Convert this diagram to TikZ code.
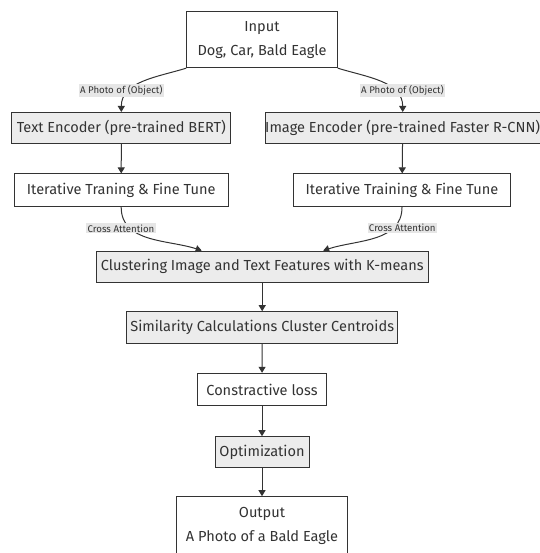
\documentclass[tikz,border=0pt]{standalone}
\usepackage{fontspec}
\setmainfont{Fira Sans}
\usetikzlibrary{arrows.meta}
\definecolor{edgegray}{HTML}{333333}
\definecolor{boxgray}{HTML}{ECECEC}
\definecolor{lblgray}{HTML}{E6E6E6}

\begin{document}
\begin{tikzpicture}[x=1bp, y=1bp, line width=1bp,
    box/.style={draw=edgegray, fill=white, text=edgegray, inner sep=0pt, align=center, font=\fontsize{14.6}{24}\selectfont},
    gbox/.style={box, fill=boxgray},
    lbl/.style={fill=lblgray, text=edgegray, inner sep=1.2bp, font=\fontsize{9.7}{11}\selectfont},
    arr/.style={draw=edgegray, -{Triangle[length=6bp,width=7bp]}}]
	\useasboundingbox (0,0) rectangle (540,-553);
	\clip (0,0) rectangle (540,-553);
	\node[box, minimum width=150.6bp, minimum height=56bp] (in) at (262,-39.7) {Input\\Dog, Car, Bald Eagle};
	\node[gbox, minimum width=219.3bp, minimum height=31bp] (te) at (121.3,-128) {Text Encoder (pre-trained BERT)};
	\node[gbox, minimum width=273.3bp, minimum height=31bp] (ie) at (402.7,-128) {Image Encoder (pre-trained Faster R-CNN)};
	\node[box, minimum width=214.3bp, minimum height=32.7bp] (it1) at (121.2,-190.3) {Iterative Traning \& Fine Tune};
	\node[box, minimum width=217.4bp, minimum height=32.7bp] (it2) at (402,-190.3) {Iterative Training \& Fine Tune};
	\node[gbox, minimum width=332.3bp, minimum height=31.3bp] (cl) at (262.2,-266.7) {Clustering Image and Text Features with K-means};
	\node[gbox, minimum width=271bp, minimum height=31.6bp] (si) at (262.2,-327.5) {Similarity Calculations Cluster Centroids};
	\node[box, minimum width=128.3bp, minimum height=32.4bp] (co) at (262,-389.5) {Constractive loss};
	\node[gbox, minimum width=94bp, minimum height=30.6bp] (op) at (262,-452) {Optimization};
	\node[box, minimum width=171.7bp, minimum height=58bp] (ou) at (262,-525.7) {Output\\A Photo of a Bald Eagle};

	\draw[arr] (in.south west) to[out=-163,in=90] (te.north) node[lbl] (pa) at (121.3,-90.7) {A Photo of (Object)};
	\draw[arr] (in.south east) to[out=-17,in=90] (ie.north) node[lbl] (pb) at (402.5,-90.5) {A Photo of (Object)};
	\draw[arr] (te) -- (it1);
	\draw[arr] (ie) -- (it2);
	\draw[arr] (it1.south) to[out=-90,in=162] ([xshift=-60.5bp]cl.north) node[lbl] (ca) at (121,-228.3) {Cross Attention};
	\draw[arr] (it2.south) to[out=-90,in=18] ([xshift=61bp]cl.north) node[lbl] (cb) at (402.3,-228) {Cross Attention};
	\draw[arr] (cl) -- (si);
	\draw[arr] (si) -- (co);
	\draw[arr] (co) -- (op);
	\draw[arr] (op) -- (ou);
\end{tikzpicture}
\end{document}
